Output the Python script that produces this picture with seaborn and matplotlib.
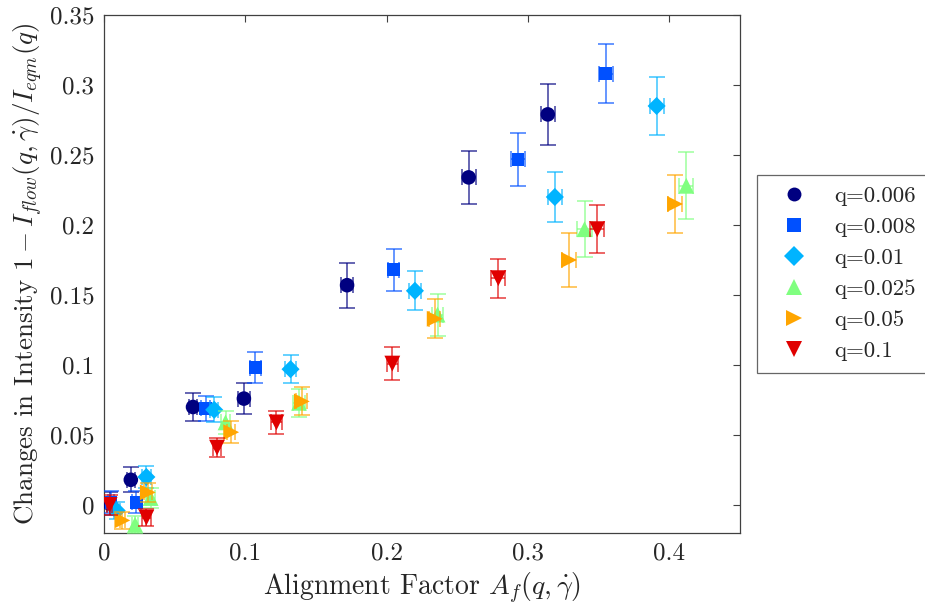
import matplotlib
matplotlib.use("Agg")
import matplotlib.pyplot as plt
from matplotlib.lines import Line2D
import numpy as np
import pandas as pd
import seaborn as sns

# Alignment factor A_f (x), intensity change (y) and their uncertainties for each q
q_labels = ["q=0.006", "q=0.008", "q=0.01", "q=0.025", "q=0.05", "q=0.1"]

x_q0006 = [0.004, 0.019, 0.063, 0.099, 0.172, 0.258, 0.314]
y_q0006 = [0.001, 0.018, 0.070, 0.076, 0.157, 0.234, 0.279]
ey_q0006 = [0.008, 0.009, 0.010, 0.011, 0.016, 0.019, 0.022]

x_q0008 = [0.005, 0.023, 0.072, 0.107, 0.205, 0.293, 0.355]
y_q0008 = [0.002, 0.002, 0.069, 0.098, 0.168, 0.247, 0.308]
ey_q0008 = [0.008, 0.008, 0.009, 0.011, 0.015, 0.019, 0.021]

x_q001 = [0.009, 0.030, 0.078, 0.132, 0.220, 0.319, 0.391]
y_q001 = [-0.004, 0.020, 0.068, 0.097, 0.153, 0.220, 0.285]
ey_q001 = [0.006, 0.008, 0.009, 0.010, 0.014, 0.018, 0.021]

x_q0025 = [0.022, 0.033, 0.086, 0.138, 0.236, 0.340, 0.412]
y_q0025 = [-0.014, 0.005, 0.059, 0.073, 0.136, 0.197, 0.228]
ey_q0025 = [0.006, 0.007, 0.008, 0.010, 0.015, 0.020, 0.024]

x_q005 = [0.013, 0.031, 0.090, 0.140, 0.234, 0.329, 0.404]
y_q005 = [-0.011, 0.009, 0.052, 0.074, 0.133, 0.175, 0.215]
ey_q005 = [0.006, 0.007, 0.008, 0.010, 0.014, 0.019, 0.021]

x_q01 = [0.004, 0.030, 0.080, 0.122, 0.204, 0.279, 0.349]
y_q01 = [0.000, -0.009, 0.041, 0.059, 0.101, 0.162, 0.197]
ey_q01 = [0.007, 0.006, 0.007, 0.008, 0.012, 0.014, 0.017]

ex_all = [0.002, 0.003, 0.003, 0.004, 0.004, 0.005, 0.005]

series_x = [x_q0006, x_q0008, x_q001, x_q0025, x_q005, x_q01]
series_y = [y_q0006, y_q0008, y_q001, y_q0025, y_q005, y_q01]
series_ey = [ey_q0006, ey_q0008, ey_q001, ey_q0025, ey_q005, ey_q01]

colors = ["#000080", "#0050ff", "#00b4ff", "#80ff80", "#ffa500", "#e00000"]
markers = ["o", "s", "D", "^", ">", "v"]
sizes = [110, 85, 85, 130, 130, 130]

frames = []
for lab, xs, ys, eys in zip(q_labels, series_x, series_y, series_ey):
    frames.append(pd.DataFrame({"Af": xs, "dI": ys, "err": eys, "xerr": ex_all, "q": lab}))
df = pd.concat(frames, ignore_index=True)

sns.set_theme(style="white")
plt.rcParams["font.family"] = ["cmr10", "DejaVu Serif"]
plt.rcParams["mathtext.fontset"] = "cm"
plt.rcParams["axes.formatter.use_mathtext"] = True

fig = plt.figure(figsize=(9.25, 6.09), dpi=100)
ax = fig.add_axes([0.1124, 0.1248, 0.6876, 0.8506])

for i, lab in enumerate(q_labels):
    sub = df[df["q"] == lab]
    ax.errorbar(sub["Af"], sub["dI"], yerr=sub["err"], xerr=sub["xerr"], fmt="none",
                ecolor=colors[i], elinewidth=1.2, capsize=5.5, capthick=1.2,
                alpha=0.7, zorder=2 + 2 * i)
    sns.scatterplot(data=sub, x="Af", y="dI", ax=ax, color=colors[i], marker=markers[i],
                    s=sizes[i], edgecolor="none", linewidth=0, legend=False,
                    zorder=3 + 2 * i)

ax.set_xlim(0, 0.45)
ax.set_ylim(-0.02, 0.35)
ax.set_xticks([0, 0.1, 0.2, 0.3, 0.4])
ax.set_xticklabels(["0", "0.1", "0.2", "0.3", "0.4"])
ax.set_yticks([0, 0.05, 0.1, 0.15, 0.2, 0.25, 0.3, 0.35])
ax.set_yticklabels(["0", "0.05", "0.1", "0.15", "0.2", "0.25", "0.3", "0.35"])
ax.tick_params(direction="in", length=5, width=0.8, color="#404040",
               top=True, right=True, labelsize=18, labelcolor="#262626", pad=7)

for sp in ax.spines.values():
    sp.set_color("#404040")
    sp.set_linewidth(0.9)

ax.set_xlabel(r"Alignment Factor $A_f(q,\dot{\gamma})$", fontsize=20, color="#262626",
              labelpad=4)
ax.set_ylabel(r"Changes in Intensity $1-I_{flow}(q,\dot{\gamma})/I_{eqm}(q)$",
              fontsize=19.5, color="#262626", labelpad=3)

handles = [Line2D([0], [0], linestyle="none", marker=m, color=c,
                  markersize=10 if m in "osD" else 11, markeredgewidth=0)
           for m, c in zip(markers, colors)]
leg = ax.legend(handles, q_labels, loc="upper left", bbox_to_anchor=(1.027, 0.692),
                fontsize=16.5, frameon=True, fancybox=False, edgecolor="#404040",
                labelspacing=0.48, handletextpad=0.65, borderpad=0.5, handlelength=2.2,
                borderaxespad=0)
leg.get_frame().set_linewidth(0.9)
for t in leg.get_texts():
    t.set_color("#262626")

fig.savefig("out.png", dpi=100)
